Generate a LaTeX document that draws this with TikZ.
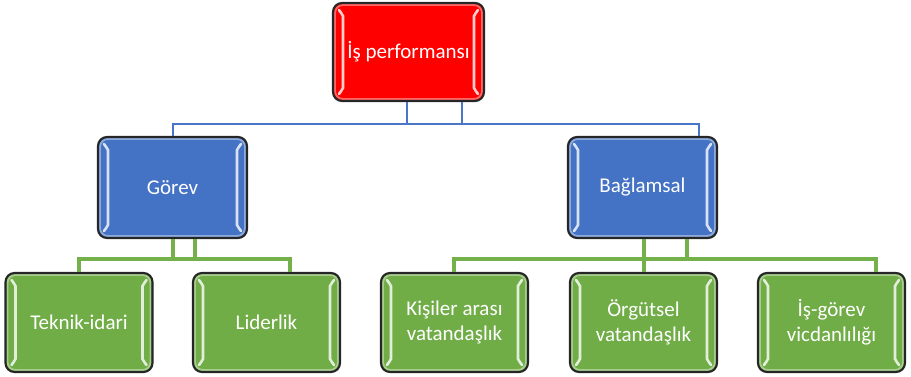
\documentclass[tikz,border=0pt]{standalone}
\usepackage{fontspec}
\setmainfont{Carlito}
\definecolor{redfill}{HTML}{FF0000}
\definecolor{bluefill}{HTML}{4472C4}
\definecolor{greenfill}{HTML}{70AD47}
\definecolor{blueconn}{HTML}{4A76C8}
\definecolor{greenconn}{HTML}{74B14B}
\begin{document}
\begin{tikzpicture}[x=1pt,y=-1pt,
  % bevel highlights drawn inside each box
  bevel/.style={path picture={
    \draw[white, opacity=0.4, line width=1.8pt, rounded corners=8pt]
      ([shift={(2pt,-2pt)}]path picture bounding box.north west) rectangle
      ([shift={(-2pt,2pt)}]path picture bounding box.south east);
    \draw[white, opacity=0.8, line width=2.6pt, line cap=round]
      ([shift={(6pt,-7pt)}]path picture bounding box.north west)
        .. controls +(4pt,-5pt) and +(0pt,8pt) ..
      ([shift={(10pt,-22pt)}]path picture bounding box.north west) --
      ([shift={(10pt,22pt)}]path picture bounding box.south west)
        .. controls +(0pt,-8pt) and +(4pt,5pt) ..
      ([shift={(6pt,7pt)}]path picture bounding box.south west);
    \draw[white, opacity=0.8, line width=2.6pt, line cap=round]
      ([shift={(-6pt,-7pt)}]path picture bounding box.north east)
        .. controls +(-4pt,-5pt) and +(0pt,8pt) ..
      ([shift={(-10pt,-22pt)}]path picture bounding box.north east) --
      ([shift={(-10pt,22pt)}]path picture bounding box.south east)
        .. controls +(0pt,-8pt) and +(-4pt,5pt) ..
      ([shift={(-6pt,7pt)}]path picture bounding box.south east);
  }},
  box/.style={rectangle, rounded corners=9pt, draw=black!85, line width=2.1pt,
    text=white, font=\fontsize{21}{25}\selectfont, align=center,
    inner sep=0pt, bevel},
  redbox/.style={box, fill=redfill, minimum width=151pt, minimum height=98pt},
  bluebox/.style={box, fill=bluefill, minimum width=149pt, minimum height=101pt},
  greenbox/.style={box, fill=greenfill, minimum width=147pt, minimum height=99pt},
  blueline/.style={draw=blueconn, line width=2.6pt},
  greenline/.style={draw=greenconn, line width=3.2pt}]

\useasboundingbox (0,0) rectangle (911,376);

% boxes
\node[redbox]   (perf)  at (408.5,52)   {İş performansı};
\node[bluebox]  (gorev) at (172.5,187.5) {Görev};
\node[bluebox]  (bag)   at (642.5,187.5) {Bağlamsal};
\node[greenbox] (tek)   at (79,322.5)    {Teknik-idari};
\node[greenbox] (lid)   at (266.5,322.5) {Liderlik};
\node[greenbox] (kis)   at (454.5,322.5) {Kişiler arası\\vatandaşlık};
\node[greenbox] (org)   at (643.5,322.5) {Örgütsel\\vatandaşlık};
\node[greenbox] (isg)   at (831.5,322.5) {İş-görev\\vicdanlılığı};

% bus under the top box
\coordinate (busTL) at (173,124);
\coordinate (busTR) at (699,124);
\draw[blueline] (gorev.north -| busTL) -- (busTL) -- (busTR) -- (bag.north -| busTR);
\draw[blueline] ([xshift=-1.5pt]perf.south) -- ([xshift=-1.5pt]perf.south |- busTL);
\draw[blueline] ([xshift=53.5pt]perf.south) -- ([xshift=53.5pt]perf.south |- busTL);

% bus under "Görev"
\coordinate (busGL1) at (79,259);
\coordinate (busGL2) at (290,259);
\draw[greenline] (tek.north) -- (busGL1) -- (busGL2) -- (lid.north -| busGL2);
\draw[greenline] ([xshift=0.5pt]gorev.south) -- ([xshift=0.5pt]gorev.south |- busGL1);
\draw[greenline] ([xshift=22.5pt]gorev.south) -- ([xshift=22.5pt]gorev.south |- busGL1);

% bus under "Bağlamsal"
\coordinate (busGR1) at (454,259);
\coordinate (busGR2) at (876,259);
\draw[greenline] (kis.north -| busGR1) -- (busGR1) -- (busGR2) -- (isg.north -| busGR2);
\draw[greenline] ([xshift=1.5pt]bag.south) -- ([xshift=0.5pt]org.north);
\draw[greenline] ([xshift=44.5pt]bag.south) -- ([xshift=44.5pt]bag.south |- busGR1);

\end{tikzpicture}
\end{document}
